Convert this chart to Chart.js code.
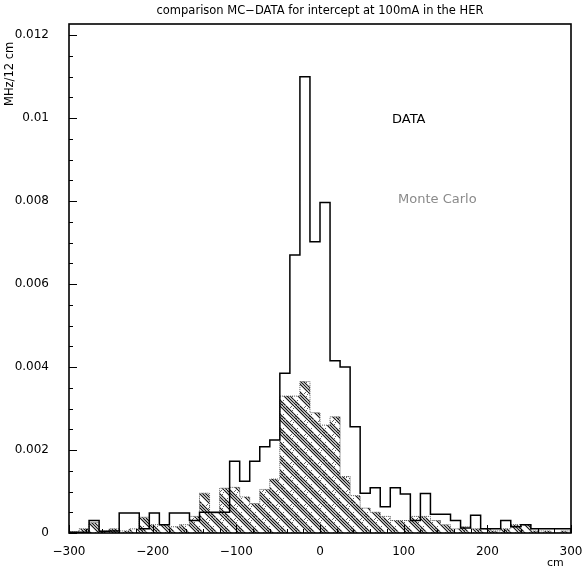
<!DOCTYPE html>
<html>
<head>
<meta charset="utf-8">
<script src="https://cdn.jsdelivr.net/npm/chart.js@4.4.0/dist/chart.umd.min.js"></script>
<style>
  html, body { margin: 0; padding: 0; background: #fff; }
  #wrap { width: 587px; height: 572px; }
</style>
</head>
<body>
<div id="wrap"><canvas id="myChart"></canvas></div>
<script>
// histogram bins: 50 bins of 12 cm from -300 to 300
const binStart = -300;
const binWidth = 12;

// DATA, MHz per 12 cm bin
const dataValues = [
  0.00002, 0.00002, 0.0003, 0.00004, 0.00005, 0.00048, 0.00048, 0.0001, 0.00048, 0.0002,
  0.00048, 0.00048, 0.0003, 0.0005, 0.0005, 0.0005, 0.00173, 0.00125, 0.00173, 0.00208,
  0.00224, 0.00385, 0.0067, 0.0110, 0.00702, 0.00797, 0.00415, 0.004, 0.00256, 0.00096,
  0.00109, 0.00063, 0.00109, 0.00094, 0.0003, 0.00095, 0.00045, 0.00045, 0.0003, 0.00012,
  0.00043, 0.0001, 0.0001, 0.0003, 0.00015, 0.0002, 0.0001, 0.0001, 0.0001, 0.0001
];

// Monte Carlo, MHz per 12 cm bin
const mcValues = [
  0.00003, 0.0001, 0.00025, 0.00005, 0.0001, 0.00005, 0.0001, 0.00038, 0.0002, 0.0002,
  0.00015, 0.0002, 0.0004, 0.00096, 0.00048, 0.00108, 0.0011, 0.00087, 0.00071, 0.00105,
  0.0013, 0.0033, 0.0033, 0.00365, 0.0029, 0.0026, 0.0028, 0.00136, 0.0009, 0.0006,
  0.0005, 0.0004, 0.0003, 0.0003, 0.0004, 0.0004, 0.0003, 0.0002, 0.0001, 0.00015,
  0.0001, 0.0001, 0.00005, 0.0001, 0.0002, 0.0002, 0.00005, 0.00005, 0, 0.00005
];

const xTicks = [-300, -200, -100, 0, 100, 200, 300];
const xTickLabels = ['\u2212300', '\u2212200', '\u2212100', '0', '100', '200', '300'];
const xMinorStep = 20;
const yTicks = [0, 0.002, 0.004, 0.006, 0.008, 0.01, 0.012];
const yTickLabels = ['0', '0.002', '0.004', '0.006', '0.008', '0.01', '0.012'];
const yMinorStep = 0.0005;

const font = '"DejaVu Sans", "Liberation Sans", sans-serif';

// turn bin contents into points for a stepped outline
function histPoints(values) {
  var pts = [{ x: binStart, y: 0 }];
  for (var i = 0; i < values.length; i++) {
    pts.push({ x: binStart + i * binWidth, y: values[i] });
  }
  var end = binStart + values.length * binWidth;
  pts.push({ x: end, y: values[values.length - 1] });
  pts.push({ x: end, y: 0 });
  return pts;
}

// hatch + stipple pattern for the MC fill
function makeHatch() {
  var n = 14;
  var c = document.createElement('canvas');
  c.width = n; c.height = n;
  var g = c.getContext('2d');
  g.strokeStyle = '#111';
  g.lineWidth = 1.2;
  [-n, 0, n].forEach(function (o) {
    [0, 3, 6].forEach(function (d) {
      g.beginPath();
      g.moveTo(o + d, 0);
      g.lineTo(o + d + n, n);
      g.stroke();
    });
  });
  g.fillStyle = '#666';
  [[10, 1], [12, 4], [2, 12], [5, 13], [11, 0], [1, 10], [13, 2], [3, 8]].forEach(function (p) {
    g.fillRect(p[0], p[1], 1, 1);
  });
  return g.createPattern(c, 'repeat');
}

const framePlugin = {
  id: 'frame',
  afterDatasetsDraw(chart) {
    var ctx = chart.ctx;
    var a = chart.chartArea;
    var xs = chart.scales.x, ys = chart.scales.y;
    ctx.save();
    ctx.strokeStyle = '#000';
    ctx.lineWidth = 1.6;
    ctx.strokeRect(a.left, a.top, a.right - a.left, a.bottom - a.top);

    ctx.lineWidth = 1;
    ctx.beginPath();
    // x ticks, pointing up into the plot
    for (var v = xTicks[0]; v <= xTicks[xTicks.length - 1] + 0.001; v += xMinorStep) {
      var px = Math.round(xs.getPixelForValue(v)) + 0.5;
      var len = xTicks.indexOf(v) >= 0 ? 8 : 4;
      ctx.moveTo(px, a.bottom);
      ctx.lineTo(px, a.bottom - len);
    }
    // y ticks, pointing right into the plot
    for (var k = 0; k * yMinorStep <= yTicks[yTicks.length - 1] + 1e-9; k++) {
      var yv = k * yMinorStep;
      var py = Math.round(ys.getPixelForValue(yv)) + 0.5;
      var major = k % 4 === 0;
      ctx.moveTo(a.left, py);
      ctx.lineTo(a.left + (major ? 8 : 4), py);
    }
    ctx.stroke();

    // title
    ctx.fillStyle = '#000';
    ctx.font = '11.5px ' + font;
    ctx.textAlign = 'center';
    ctx.textBaseline = 'alphabetic';
    ctx.fillText('comparison MC\u2212DATA for intercept at 100mA in the HER', (a.left + a.right) / 2, 14);

    // axis titles
    ctx.font = '11px ' + font;
    ctx.textAlign = 'left';
    ctx.fillText('cm', 547, 566);
    ctx.save();
    ctx.translate(13, 106);
    ctx.rotate(-Math.PI / 2);
    ctx.font = '11.5px ' + font;
    ctx.fillText('MHz/12 cm', 0, 0);
    ctx.restore();

    // legend texts
    ctx.font = '13px ' + font;
    ctx.fillStyle = '#000';
    ctx.fillText('DATA', 392, 123);
    ctx.fillStyle = '#8a8a8a';
    ctx.fillText('Monte Carlo', 398, 203);
    ctx.restore();
  }
};

const ctx = document.getElementById('myChart');

new Chart(ctx, {
  type: 'line',
  data: {
    datasets: [{
      label: 'DATA',
      data: histPoints(dataValues),
      stepped: true,
      borderColor: '#000',
      borderWidth: 1.5,
      pointRadius: 0,
      fill: false
    }, {
      label: 'Monte Carlo',
      data: histPoints(mcValues),
      stepped: true,
      borderColor: '#555',
      borderWidth: 1,
      borderDash: [1, 1],
      pointRadius: 0,
      backgroundColor: makeHatch(),
      fill: 'origin'
    }]
  },
  options: {
    responsive: true,
    maintainAspectRatio: false,
    animation: false,
    layout: { padding: { top: 24, right: 16, left: 0, bottom: 0 } },
    plugins: {
      legend: { display: false },
      tooltip: { enabled: false }
    },
    scales: {
      x: {
        type: 'linear',
        min: -300,
        max: 300,
        afterBuildTicks: function (scale) {
          scale.ticks = xTicks.map(function (v) { return { value: v }; });
        },
        afterFit: function (scale) { scale.height = 39; },
        ticks: {
          color: '#000',
          font: { family: font, size: 12 },
          padding: 4,
          maxRotation: 0,
          callback: function (v, i) { return xTickLabels[i]; }
        },
        grid: { display: false },
        border: { display: false }
      },
      y: {
        min: 0,
        max: 0.01227,
        afterBuildTicks: function (scale) {
          scale.ticks = yTicks.map(function (v) { return { value: v }; });
        },
        afterFit: function (scale) { scale.width = 69; },
        ticks: {
          color: '#000',
          font: { family: font, size: 12 },
          padding: 12,
          callback: function (v, i) { return yTickLabels[i]; }
        },
        grid: { display: false },
        border: { display: false }
      }
    }
  },
  plugins: [framePlugin]
});
</script>
</body>
</html>
